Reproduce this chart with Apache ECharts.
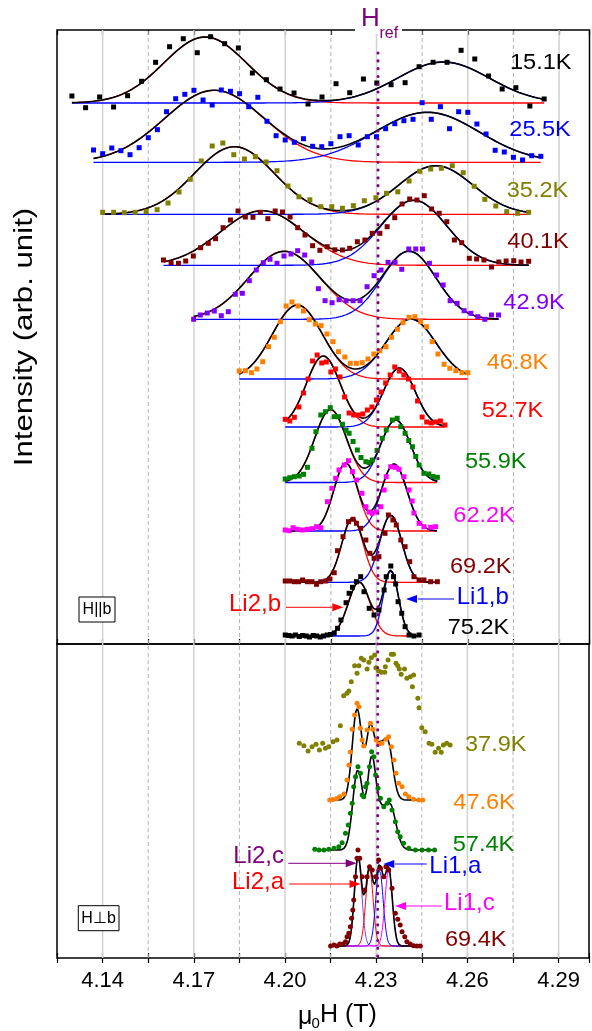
<!DOCTYPE html>
<html><head><meta charset="utf-8">
<script src="https://cdn.jsdelivr.net/npm/echarts@6/dist/echarts.min.js"></script>
<style>html,body{margin:0;padding:0;background:#fff}#c{width:592px;height:1031px}</style>
</head><body><div id="c"></div>
<script>
// ---------------- DATA ----------------
const xTicks = [4.14, 4.155, 4.17, 4.185, 4.20, 4.215, 4.23, 4.245, 4.26, 4.275, 4.29];
const majorTicks = [4.14, 4.17, 4.20, 4.23, 4.26, 4.29];
const Href = 4.2305;

// H || b spectra (top panel)
const topTemps = ['15.1K','25.5K','35.2K','40.1K','42.9K','46.8K','52.7K','55.9K','62.2K','69.2K','75.2K'];
const topOffset = [541, 481.7, 429.7, 378.7, 324.7, 265, 217, 161.5, 113, 61.7, 8];
// Gaussian fit components: [centre (T), sigma (T), amplitude]
const topLi2b = [[4.1737,0.0136,66],[4.1767,0.0164,72],[4.1833,0.0131,67.6],[4.1924,0.0138,54.6],[4.1997,0.0118,68],[4.2040,0.0082,74],[4.2125,0.0056,71],[4.2149,0.0052,73],[4.2199,0.0039,68],[4.2221,0.0035,64],[4.2243,0.0036,54]];
const topLi1b = [[4.2520,0.0151,41],[4.2467,0.0171,50],[4.2495,0.0121,48.6],[4.2423,0.0108,65],[4.2407,0.0089,68],[4.2413,0.0082,60],[4.2375,0.0052,59],[4.2363,0.0049,62.5],[4.2358,0.0042,67],[4.2347,0.0036,67],[4.2347,0.0025,65]];
const topRange = [[4.1299,4.2851],[4.137,4.284],[4.140,4.280],[4.160,4.280],[4.1699,4.2701],[4.1849,4.2600],[4.200,4.2525],[4.200,4.250],[4.200,4.250],[4.200,4.2505],[4.200,4.2445]];

const pts151 = [[4.1299,7],[4.1344,-4.7],[4.1390,6],[4.1436,-4],[4.1482,7.3],[4.1528,21.7],[4.1574,40.7],[4.1620,56.3],[4.1665,64.3],[4.1711,50.3],[4.1755,66.3],[4.1801,59.3],[4.1846,55],[4.1892,30],[4.1938,23.3],[4.1983,14],[4.2029,10],[4.2075,-1],[4.2121,6],[4.2167,19.3],[4.2212,10.3],[4.2257,24],[4.2301,20],[4.2348,18.3],[4.2394,20.3],[4.2440,36.3],[4.2486,40.7],[4.2532,40.7],[4.2578,52.7],[4.2623,44],[4.2668,27],[4.2713,14],[4.2758,15.3],[4.2804,-3],[4.2851,4]];
const pts255 = [[4.137,12.3],[4.140,8.6],[4.143,14.3],[4.146,11.6],[4.149,7.6],[4.152,14.6],[4.155,24.6],[4.158,32.6],[4.161,50.6],[4.164,63.6],[4.167,68],[4.170,72],[4.173,62.3],[4.176,57.3],[4.179,72.3],[4.182,71],[4.185,68.6],[4.188,55.6],[4.191,65],[4.194,41],[4.197,26.6],[4.200,22.3],[4.203,20],[4.206,23.6],[4.209,16],[4.212,15.6],[4.215,18.6],[4.218,25.6],[4.221,26.6],[4.224,17.3],[4.227,25.6],[4.230,25.6],[4.233,33.6],[4.236,38.6],[4.239,41.6],[4.242,43],[4.245,59.6],[4.248,43],[4.251,55.6],[4.254,33.6],[4.257,50.6],[4.260,50],[4.263,38.3],[4.266,28.3],[4.269,12],[4.272,10.3],[4.275,5],[4.278,2.3],[4.281,6.6],[4.284,6]];
const pts352 = [[4.1400,2],[4.1436,2],[4.1471,1.6],[4.1507,2],[4.1543,2.6],[4.1579,4.6],[4.1615,11.3],[4.1651,22.3],[4.1688,35],[4.1724,53.3],[4.1760,68.3],[4.1795,71.3],[4.1831,59.6],[4.1866,55.3],[4.1902,57.6],[4.1937,52.3],[4.1973,43.6],[4.2009,28.3],[4.2045,17.5],[4.2081,14.5],[4.2117,7.6],[4.2153,7.6],[4.2188,6],[4.2224,8.6],[4.2260,13.6],[4.2298,16.5],[4.2333,21],[4.2370,22.5],[4.2407,33.3],[4.2442,43],[4.2478,45.3],[4.2513,46],[4.2549,48.6],[4.2585,41.6],[4.2621,28],[4.2656,15],[4.2692,8.3],[4.2728,2.6],[4.2764,1],[4.2800,2]];
const pts401 = [[4.1600,5.3],[4.1625,2.6],[4.1649,2],[4.1673,4.3],[4.1698,9.3],[4.1722,17.6],[4.1747,22],[4.1771,26.6],[4.1796,37.6],[4.1820,45.3],[4.1845,54.3],[4.1869,48.3],[4.1894,48],[4.1918,53],[4.1943,46.6],[4.1967,54.3],[4.1991,53.3],[4.2016,48.3],[4.2041,37.6],[4.2065,30.3],[4.2090,19.6],[4.2114,15],[4.2138,18.6],[4.2163,15.5],[4.2188,15.3],[4.2212,17],[4.2237,23.6],[4.2262,25.3],[4.2286,32],[4.2311,32],[4.2335,38.6],[4.2360,47.6],[4.2384,61.3],[4.2409,66.3],[4.2433,65.3],[4.2457,69.6],[4.2481,56.3],[4.2506,52],[4.2531,43.6],[4.2556,25.3],[4.2580,22.6],[4.2605,7],[4.2629,6.3],[4.2653,5.3],[4.2678,-1.7],[4.2702,3.3],[4.2726,4.3],[4.2751,4.6],[4.2775,3.3],[4.2800,4]];
const pts429 = [[4.1699,0],[4.1721,4.3],[4.1744,6.3],[4.1767,8.3],[4.1790,3.6],[4.1813,7.6],[4.1836,25],[4.1859,26],[4.1882,38.6],[4.1905,49.3],[4.1928,56.6],[4.1950,60],[4.1973,56],[4.1996,63.3],[4.2019,65.3],[4.2041,68.6],[4.2064,64.3],[4.2087,57.3],[4.2109,30.6],[4.2131,18.6],[4.2154,16.6],[4.2177,19.6],[4.2200,18.6],[4.2223,18.6],[4.2246,18.6],[4.2269,32.6],[4.2292,43.6],[4.2315,49.3],[4.2338,57],[4.2361,57],[4.2383,50],[4.2406,70.3],[4.2429,70.3],[4.2451,70.3],[4.2474,56],[4.2497,44.3],[4.2519,34.3],[4.2542,18.6],[4.2565,16],[4.2588,8.6],[4.2610,6],[4.2633,2.6],[4.2656,0],[4.2678,4.3],[4.2701,4.3]];
const pts468 = [[4.1849,8],[4.1869,8.3],[4.1889,6.3],[4.1907,10],[4.1926,17.3],[4.1945,32.3],[4.1964,41.7],[4.1984,57.3],[4.2003,73],[4.2022,77],[4.2042,73],[4.2060,68],[4.2079,59.3],[4.2099,55],[4.2118,53.3],[4.2137,45],[4.2157,37.3],[4.2175,27.3],[4.2196,22],[4.2214,15.7],[4.2234,15.7],[4.2253,16.3],[4.2272,20],[4.2291,25],[4.2311,28.3],[4.2331,32.3],[4.2349,41.7],[4.2369,49.7],[4.2387,56.3],[4.2407,61.7],[4.2426,62.3],[4.2445,57.3],[4.2464,52.3],[4.2483,37.3],[4.2502,25],[4.2522,14.7],[4.2541,10.7],[4.2561,8.3],[4.2581,6.3],[4.2600,6.3]];
const pts527 = [[4.2000,7.7],[4.2015,6],[4.2030,9.7],[4.2045,20],[4.2060,34],[4.2075,48],[4.2090,66],[4.2105,72],[4.2120,64],[4.2135,65],[4.2150,55],[4.2165,58],[4.2180,50],[4.2195,30],[4.2210,14],[4.2225,12],[4.2240,12],[4.2255,13],[4.2270,17],[4.2285,20],[4.2300,27],[4.2315,35],[4.2330,44],[4.2345,52],[4.2360,60],[4.2375,56],[4.2390,52],[4.2405,48],[4.2420,40],[4.2435,26],[4.2450,10],[4.2465,5],[4.2480,4],[4.2495,5],[4.2510,6],[4.2525,2]];
const pts559 = [[4.2000,3.5],[4.2015,4.8],[4.2030,5.8],[4.2046,6.5],[4.2060,8.2],[4.2073,15.2],[4.2088,34.2],[4.2101,50.8],[4.2117,67.5],[4.2132,70.8],[4.2148,74.8],[4.2161,65.8],[4.2175,65.8],[4.2188,58.2],[4.2200,52],[4.2210,49.2],[4.2223,41],[4.2237,32.5],[4.2249,25],[4.2265,20.8],[4.2276,20],[4.2286,22.5],[4.2302,32],[4.2319,44.2],[4.2332,52.5],[4.2352,62.5],[4.2368,64.2],[4.2380,55.8],[4.2394,49.2],[4.2406,42],[4.2418,35.8],[4.2429,26],[4.2440,17.5],[4.2456,9.2],[4.2472,8.5],[4.2485,6],[4.2500,5.2]];
const pts622 = [[4.2000,1],[4.2013,0.3],[4.2026,3.3],[4.2040,1.7],[4.2057,1],[4.2073,1.7],[4.2088,2.3],[4.2103,4.3],[4.2117,3.3],[4.2139,29.3],[4.2153,42.7],[4.2166,52.7],[4.2177,61],[4.2194,66],[4.2208,70.3],[4.2221,59.3],[4.2234,51],[4.2252,37.7],[4.2265,24.3],[4.2276,19],[4.2286,17.7],[4.2300,19],[4.2314,24.3],[4.2325,41],[4.2332,54.3],[4.2347,64.3],[4.2363,63.7],[4.2374,61.7],[4.2390,54.3],[4.2407,41],[4.2417,30],[4.2423,18],[4.2440,7.7],[4.2456,4.3],[4.2478,3.7],[4.2494,4.3]];
const pts692 = [[4.2000,1.3],[4.2015,1.3],[4.2030,0.6],[4.2044,0.6],[4.2057,2.3],[4.2073,0.6],[4.2088,0.6],[4.2103,-2],[4.2117,0.6],[4.2133,1.3],[4.2147,3.3],[4.2161,9.6],[4.2172,31.6],[4.2190,45.6],[4.2208,60.6],[4.2223,63],[4.2234,59],[4.2248,54],[4.2265,42.3],[4.2278,29],[4.2292,24],[4.2308,25.6],[4.2328,49],[4.2339,67.3],[4.2354,62.3],[4.2365,57.3],[4.2380,42.3],[4.2394,35.6],[4.2409,20.6],[4.2423,5.6],[4.2440,2.3],[4.2456,2.3],[4.2478,0.6],[4.2500,0.6]];
const pts752 = [[4.2000,1],[4.2011,0.5],[4.2023,0],[4.2034,1],[4.2046,-0.5],[4.2057,0.5],[4.2069,0],[4.2080,-1],[4.2092,0.5],[4.2103,0],[4.2115,-1],[4.2126,0],[4.2138,1],[4.2149,1.5],[4.2161,3],[4.2172,7.7],[4.2183,16],[4.2200,33.3],[4.2210,42.7],[4.2221,48.7],[4.2234,54.3],[4.2248,59.3],[4.2259,44.3],[4.2276,27.7],[4.2292,21],[4.2308,26],[4.2325,46],[4.2332,59.3],[4.2347,70],[4.2356,59.3],[4.2363,52],[4.2371,34.3],[4.2383,22.7],[4.2394,9.3],[4.2407,1],[4.2423,0],[4.2440,1]];
const topPoints = [pts151, pts255, pts352, pts401, pts429, pts468, pts527, pts559, pts622, pts692, pts752];

// H ⊥ b spectra (bottom panel)
const botTemps = ['37.9K','47.6K','57.4K','69.4K'];
const botOffset = [210, 158, 108, 12];
const pts379 = [[4.2047,4.7],[4.2062,2.3],[4.2076,-3],[4.2089,1.3],[4.2102,3.7],[4.2113,-2],[4.2124,4.7],[4.2133,-0.3],[4.2144,1.3],[4.2158,6.3],[4.2171,8],[4.2182,22.3],[4.2193,52.3],[4.2204,54.7],[4.2210,57],[4.2218,66.3],[4.2229,82.3],[4.2237,74.7],[4.2243,82.3],[4.2251,89.7],[4.2259,88],[4.2270,79],[4.2276,85.7],[4.2284,90.3],[4.2295,93],[4.2299,80.3],[4.2308,77],[4.2317,75.7],[4.2328,75.7],[4.2330,81.3],[4.2339,88],[4.2350,93.7],[4.2357,93.7],[4.2365,84.7],[4.2371,82.3],[4.2376,79],[4.2382,73.7],[4.2393,79],[4.2401,69.7],[4.2412,71.3],[4.2419,61.3],[4.2423,73],[4.2437,49.7],[4.2441,40.3],[4.2450,20.3],[4.2461,16.3],[4.2474,4.7],[4.2483,3.7],[4.2494,-4.3],[4.2505,-0.3],[4.2514,-4.3],[4.2521,3],[4.2532,4.7],[4.2543,3]];
const pts476 = [[4.2147,0],[4.2157,0.5],[4.2170,1.5],[4.2180,3.3],[4.2194,6],[4.2204,20],[4.2210,35],[4.2215,48],[4.2221,70.7],[4.2229,85],[4.2237,96.7],[4.2243,93.3],[4.2248,71.7],[4.2254,60],[4.2259,54],[4.2270,70],[4.2281,76.7],[4.2289,70.7],[4.2300,60],[4.2308,56],[4.2319,56.7],[4.2332,60.7],[4.2341,63.3],[4.2350,53.3],[4.2358,40],[4.2365,26.7],[4.2374,16.7],[4.2385,13.3],[4.2396,6],[4.2407,3.3],[4.2423,0.7],[4.2440,0],[4.2453,0]];
const pts574 = [[4.2098,0.7],[4.2112,0],[4.2128,0],[4.2144,0.7],[4.2161,1.7],[4.2177,3.3],[4.2188,7.3],[4.2199,16.7],[4.2208,25],[4.2215,36.7],[4.2221,46.7],[4.2226,63.3],[4.2232,73.3],[4.2240,83.3],[4.2248,76.7],[4.2254,55],[4.2259,53.3],[4.2265,63.3],[4.2270,66.7],[4.2278,83.3],[4.2285,98.3],[4.2292,93.3],[4.2298,75],[4.2306,61.7],[4.2314,51.7],[4.2325,43.3],[4.2336,46.7],[4.2343,50],[4.2352,40],[4.2363,28.3],[4.2371,18.3],[4.2379,13.3],[4.2390,6.7],[4.2407,1.7],[4.2429,0],[4.2451,0],[4.2472,0],[4.2492,0]];
const pts694 = [[4.2150,0],[4.2161,1],[4.2171,0],[4.2180,2],[4.2191,2],[4.2199,4.3],[4.2204,9.3],[4.2210,12.7],[4.2215,19.3],[4.2219,27.7],[4.2223,36],[4.2226,46],[4.2232,69.3],[4.2237,87.7],[4.2240,96],[4.2246,87.7],[4.2254,69.3],[4.2262,56],[4.2270,69.3],[4.2278,79.3],[4.2287,76],[4.2298,69.3],[4.2308,86],[4.2314,77.7],[4.2325,69.3],[4.2332,79.3],[4.2341,76],[4.2352,57.7],[4.2363,32.7],[4.2371,26.7],[4.2379,21],[4.2385,14.3],[4.2394,9.3],[4.2401,4.3],[4.2412,2],[4.2423,0.3],[4.2434,0],[4.2445,0]];
const botPoints = [pts379, pts476, pts574, pts694];
// four-Gaussian fits [centre, sigma, amplitude]: Li2,c  Li2,a  Li1,a  Li1,c
const fit476 = [[4.22371,0.00157,91],[4.22804,0.00131,70],[4.23083,0.00131,39.6],[4.23378,0.00164,57.5]];
const fit574 = [[4.22394,0.00164,80],[4.22854,0.00141,90],[4.23132,0.00131,22],[4.23444,0.00197,46]];
const fit694 = [[4.22404,0.00121,89],[4.22778,0.00121,77],[4.23106,0.00121,77],[4.23411,0.00121,76]];
const botFits = [null, fit476, fit574, fit694];
const botRange = [null, [4.2147,4.2453], [4.2098,4.2499], [4.2150,4.2453]];

// ---------------- STYLE ----------------
const FF = "'Liberation Sans', Arial, sans-serif";
const topColors = ['#000000','#0000ff','#808000','#800000','#8000ff','#ff8000','#ff0000','#008000','#ff00ff','#800000','#000000'];
const botColors = ['#808000','#ff8000','#008000','#800000'];
const compColors = ['#8040e0','#ff0000','#0000ff','#ff00ff'];
const XMIN = 4.125, XMAX = 4.30, TOPMAX = 614, BOTMAX = 314;

function g(x, p) { return p[2] * Math.exp(-(x - p[0]) * (x - p[0]) / (2 * p[1] * p[1])); }
function sample(range, fn) {
  const n = 300, out = [];
  for (let i = 0; i <= n; i++) { const x = range[0] + (range[1] - range[0]) * i / n; out.push([x, fn(x)]); }
  return out;
}
function isMajor(v) { return majorTicks.some(m => Math.abs(m - v) < 1e-6); }

const series = [];
// grid lines
[[0, 0, TOPMAX], [3, 1, BOTMAX]].forEach(([xi, yi, ymax]) => {
  series.push({
    type: 'custom', xAxisIndex: xi, yAxisIndex: yi, silent: true, z: 1, clip: false,
    data: xTicks.map(v => [v, 0]),
    renderItem: (params, api) => {
      const v = api.value(0), p1 = api.coord([v, 0]), p2 = api.coord([v, ymax]);
      const maj = isMajor(v);
      return { type: 'line', shape: { x1: p1[0], y1: p1[1], x2: p2[0], y2: p2[1] },
        style: { stroke: maj ? '#d2d2d2' : '#b4b4b4', lineWidth: maj ? 1.5 : 1, lineDash: maj ? null : [4, 3] } };
    }
  });
});
// Href dotted line
[[0, 0, 591], [3, 1, BOTMAX]].forEach(([xi, yi, ytop]) => {
  series.push({
    type: 'custom', xAxisIndex: xi, yAxisIndex: yi, silent: true, z: 8, clip: false,
    data: [[Href, 0]],
    renderItem: (params, api) => {
      const p1 = api.coord([api.value(0), ytop]), p2 = api.coord([api.value(0), 0]);
      return { type: 'line', shape: { x1: p1[0], y1: p1[1], x2: p2[0], y2: p2[1] },
        style: { stroke: '#800080', lineWidth: 3, lineDash: [0.1, 7.7], lineCap: 'round' } };
    }
  });
});

function lineS(xi, yi, data, color, w, z) {
  return { type: 'line', xAxisIndex: xi, yAxisIndex: yi, data, showSymbol: false, symbol: 'none', silent: true,
    lineStyle: { color, width: w }, itemStyle: { color }, z, animation: false };
}

// top panel
topTemps.forEach((t, i) => {
  const off = topOffset[i], L = topLi2b[i], R = topLi1b[i], rg = topRange[i];
  series.push(lineS(0, 0, sample(rg, x => off + g(x, L)), '#ff0000', 1.3, 3));
  series.push(lineS(0, 0, sample(rg, x => off + g(x, R)), '#0000ff', 1.3, 3));
  series.push(lineS(0, 0, sample(rg, x => off + g(x, L) + g(x, R)), '#000000', 1.6, 4));
  series.push({ type: 'scatter', xAxisIndex: 0, yAxisIndex: 0, symbol: 'rect', symbolSize: 5, silent: true, z: 5,
    itemStyle: { color: topColors[i], opacity: 1 }, data: topPoints[i].map(p => [p[0], off + p[1]]) });
});
// bottom panel
botTemps.forEach((t, i) => {
  const off = botOffset[i], fit = botFits[i];
  if (fit) {
    if (i === 3) fit.forEach((p, k) => series.push(lineS(3, 1, sample(botRange[i], x => off + g(x, p)), compColors[k], 1, 3)));
    series.push(lineS(3, 1, sample(botRange[i], x => off + fit.reduce((s, p) => s + g(x, p), 0)), '#000000', 1.6, 4));
  }
  series.push({ type: 'scatter', xAxisIndex: 3, yAxisIndex: 1, symbol: 'circle', symbolSize: 5, silent: true, z: 5,
    itemStyle: { color: botColors[i], opacity: 1 }, data: botPoints[i].map(p => [p[0], off + p[1]]) });
});

const tickCfg = { show: true, inside: true, length: 5, lineStyle: { color: '#000', width: 1.2 } };
function xAx(grid, pos, labels) {
  return { type: 'value', gridIndex: grid, position: pos, min: XMIN, max: XMAX, interval: 0.015,
    axisLine: { show: false }, axisTick: tickCfg, splitLine: { show: false },
    axisLabel: { show: labels, margin: 12, color: '#000', fontSize: 22, fontFamily: FF, hideOverlap: false,
      formatter: v => isMajor(v) ? v.toFixed(2) : '' } };
}

// annotations
const G = [];
function txt(text, x, y, color, size, align, extra) {
  G.push(Object.assign({ type: 'text', x, y, silent: true, z: 100,
    style: { text, fill: color, fontSize: size, fontFamily: FF, align: align || 'left', verticalAlign: 'middle' } }, extra || {}));
}
function arrow(x1, x2, y, tip, color) {
  G.push({ type: 'line', silent: true, z: 100, shape: { x1, y1: y, x2, y2: y }, style: { stroke: color, lineWidth: 1 } });
  const dir = tip > x2 ? 1 : -1;
  const base = tip - dir * 11;
  G.push({ type: 'polygon', silent: true, z: 100, shape: { points: [[tip, y], [base, y - 4], [base, y + 4]] }, style: { fill: color } });
}
const wide = { scaleX: 1.07 };
const topLabelPos = [[510,62.5],[509.3,129.5],[506.7,191],[507.3,241.7],[503.3,303.3],[486.7,363.3],[481.7,411.3],[465,462.3],[453.3,515.7],[450,566.7],[447.7,628]];
topTemps.forEach((t, i) => txt(t, topLabelPos[i][0], topLabelPos[i][1], topColors[i], 22, 'left', wide));
const botLabelPos = [[465,745],[453.3,802.8],[452.7,845],[445,940]];
botTemps.forEach((t, i) => txt(t, botLabelPos[i][0], botLabelPos[i][1], botColors[i], 22, 'left', wide));

txt('Li2,b', 281, 604, '#ff0000', 24, 'right');
arrow(286, 332, 607.3, 343.3, '#ff0000');
txt('Li1,b', 456.7, 597, '#0000ff', 24);
arrow(454, 418, 599, 406, '#0000ff');
txt('Li2,c', 284, 856.7, '#800080', 24, 'right');
arrow(288.3, 346, 863.3, 356.7, '#800080');
txt('Li2,a', 284, 882.5, '#ff0000', 24, 'right');
arrow(289.3, 350, 884, 360.5, '#ff0000');
txt('Li1,a', 429.3, 866.7, '#0000ff', 24);
arrow(426.7, 395, 864, 383.3, '#0000ff');
txt('Li1,c', 444, 903.3, '#ff00ff', 24);
arrow(441.7, 406, 906, 395, '#ff00ff');

G.push({ type: 'rect', silent: true, z: 99, shape: { x: 79, y: 597, width: 36, height: 25 }, style: { fill: '#fff', stroke: '#000', lineWidth: 1 } });
txt('H||b', 97, 609.5, '#000', 16, 'center');
G.push({ type: 'rect', silent: true, z: 99, shape: { x: 78.3, y: 905.7, width: 40.7, height: 25 }, style: { fill: '#fff', stroke: '#000', lineWidth: 1 } });
txt('H\u22A5b', 98.6, 918.3, '#000', 16, 'center');

// Href label breaking the top frame
G.push({ type: 'rect', silent: true, z: 99, shape: { x: 355, y: 26, width: 47, height: 8 }, style: { fill: '#fff' } });
txt('H', 361, 19, '#800080', 26);
txt('ref', 379.5, 33.5, '#800080', 16);

// axis titles
txt('Intensity (arb. unit)', 25, 337, '#000', 26, 'center', { rotation: Math.PI / 2, scaleX: 1.2 });
txt('\u03BC', 298, 1017, '#000', 25);
txt('0', 311.5, 1024, '#000', 15);
txt('H (T)', 320, 1015, '#000', 25);

const chart = echarts.init(document.getElementById('c'), null, { renderer: 'canvas' });
chart.setOption({
  animation: false,
  backgroundColor: '#fff',
  grid: [
    { left: 57, right: 2.5, top: 30, height: 614, show: true, borderColor: '#000', borderWidth: 1.5, containLabel: false },
    { left: 57, right: 2.5, top: 644, height: 314, show: true, borderColor: '#000', borderWidth: 1.5, containLabel: false }
  ],
  xAxis: [xAx(0, 'bottom', false), xAx(0, 'top', false), xAx(1, 'top', false), xAx(1, 'bottom', true)],
  yAxis: [
    { type: 'value', gridIndex: 0, min: 0, max: TOPMAX, show: false },
    { type: 'value', gridIndex: 1, min: 0, max: BOTMAX, show: false }
  ],
  graphic: { elements: G },
  series
});
</script></body></html>
